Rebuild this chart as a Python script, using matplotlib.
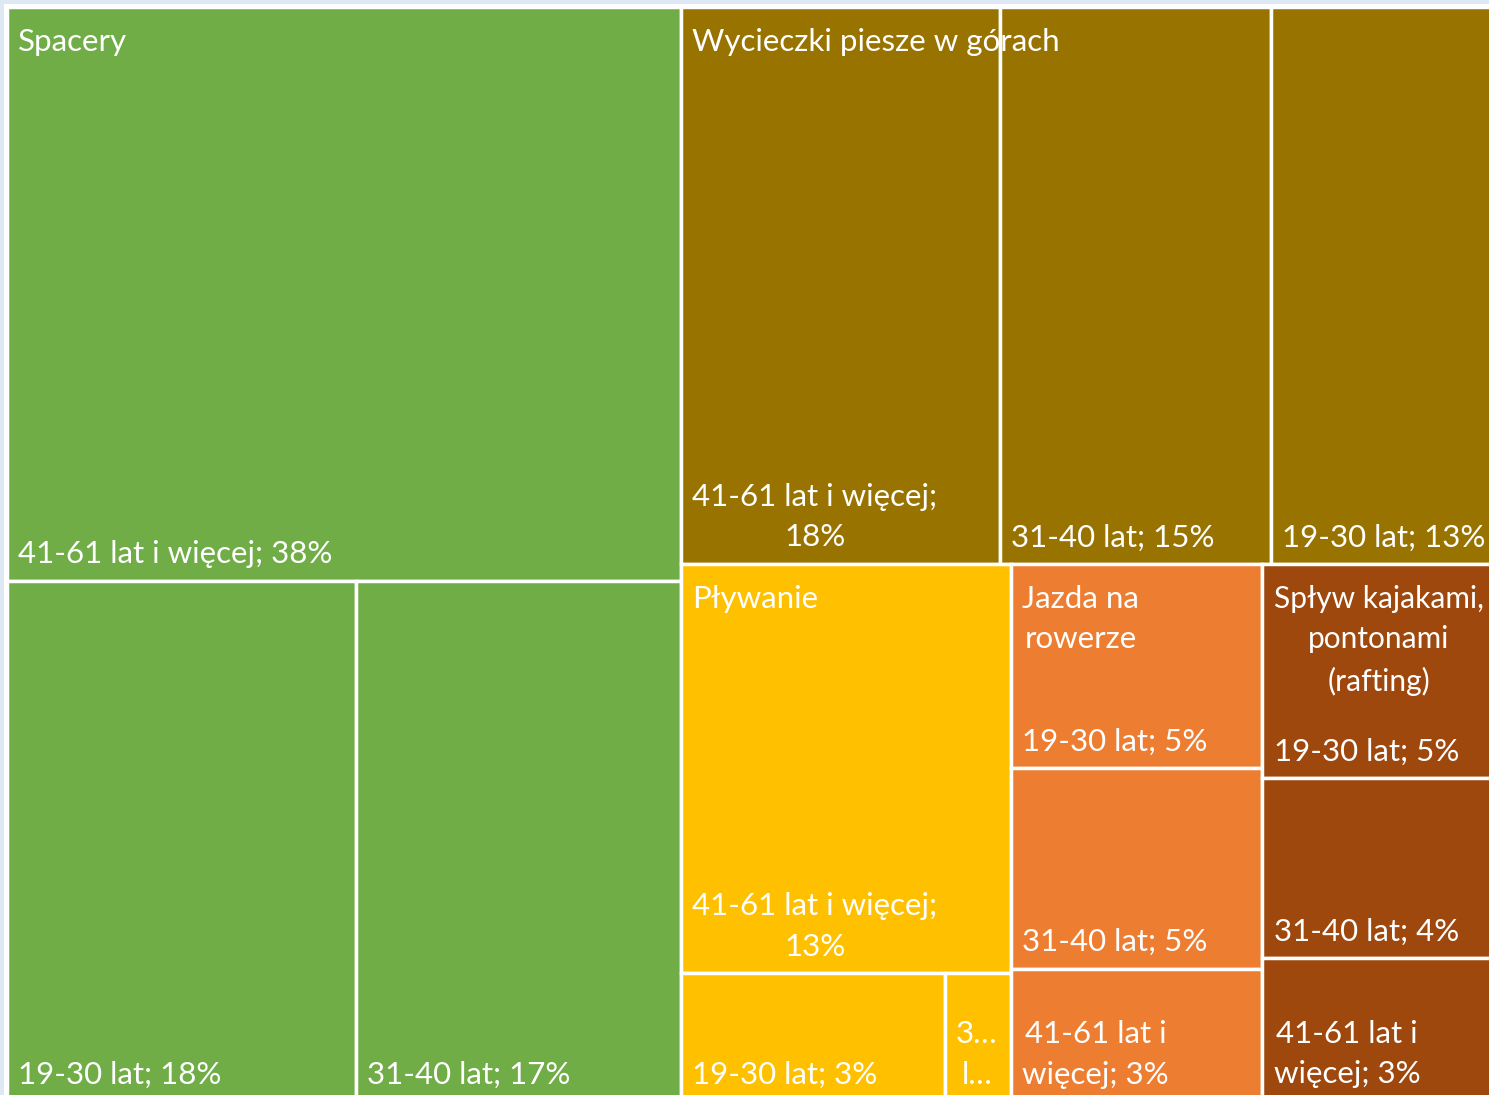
import matplotlib.pyplot as plt
from matplotlib.patches import Rectangle
from matplotlib.transforms import offset_copy

# Treemap data: activity groups (as broken in the original), age groups, shares (%)
groups = ["Spacery", "Wycieczki piesze w górach", "Pływanie",
          "Jazda na\nrowerze", "Spływ kajakami,\npontonami\n(rafting)"]
group_colors = ["#70AD47", "#997300", "#FFC000", "#ED7D31", "#9E480E"]

spacery_ages = ["41-61 lat i więcej", "19-30 lat", "31-40 lat"]
spacery_vals = [38.4, 18.0, 16.8]
wycieczki_ages = ["41-61 lat i więcej", "31-40 lat", "19-30 lat"]
wycieczki_vals = [17.6, 15.0, 12.8]
plywanie_ages = ["41-61 lat i więcej", "19-30 lat", "31-40 lat"]
plywanie_vals = [13.4, 3.35, 0.84]
rower_ages = ["19-30 lat", "31-40 lat", "41-61 lat i więcej"]
rower_vals = [5.1, 5.0, 3.3]
splyw_ages = ["19-30 lat", "31-40 lat", "41-61 lat i więcej"]
splyw_vals = [5.1, 4.3, 3.4]

group_ages = [spacery_ages, wycieczki_ages, plywanie_ages, rower_ages, splyw_ages]
group_vals = [spacery_vals, wycieczki_vals, plywanie_vals, rower_vals, splyw_vals]
# how each group splits its box (same arrangement as the Excel treemap)
group_modes = ["head", "cols", "head", "rows", "rows"]

FONT = "Lato"
FS = 22.5
LS = 1.55      # line spacing
PAD = 8        # points, left/right padding of labels
TOP_PAD = 15   # points, title from top of group
BOT_PAD = 9    # points, leaf label from bottom of tile


def slice_box(box, vals, horizontal):
    x, y, w, h = box
    total = sum(vals)
    out, off = [], 0.0
    for v in vals:
        f = v / total
        if horizontal:
            out.append((x + off * w, y, f * w, h))
        else:
            out.append((x, y + off * h, w, f * h))
        off += f
    return out


def split_group(box, vals, mode):
    if mode == "cols":
        return slice_box(box, vals, True)
    if mode == "rows":
        return slice_box(box, vals, False)
    # "head": first item on top, the rest side by side below
    top_box, rest_box = slice_box(box, [vals[0], sum(vals[1:])], False)
    return [top_box] + slice_box(rest_box, vals[1:], True)


W_PX, H_PX = 1489, 1095
fig = plt.figure(figsize=(W_PX / 100, H_PX / 100), dpi=100, facecolor="#dde8f4")
# the treemap runs a little past the right and bottom edge, as in the original
left, top, right, bottom = 7, 7, 1502.6, 1101
ax = fig.add_axes([left / W_PX, 1 - bottom / H_PX,
                   (right - left) / W_PX, (bottom - top) / H_PX])
ax.set_xlim(0, 1)
ax.set_ylim(1, 0)
ax.axis("off")
fig.patches.append(Rectangle((4 / W_PX, 0), 1, 1 - 4 / H_PX, transform=fig.transFigure,
                             facecolor="white", edgecolor="none", zorder=-1))

# top level: first group as a column, second on top of the rest, rest side by side
totals = [sum(v) for v in group_vals]
first_box, rest_box = slice_box((0, 0, 1, 1), [totals[0], sum(totals[1:])], True)
second_box, bottom_box = slice_box(rest_box, [totals[1], sum(totals[2:])], False)
group_boxes = [first_box, second_box] + slice_box(bottom_box, totals[2:], True)

renderer = fig.canvas.get_renderer()


def px_size(s, fs=FS):
    t = ax.text(0, 0, s, fontsize=fs, family=FONT, linespacing=LS)
    bb = t.get_window_extent(renderer)
    t.remove()
    return bb.width, bb.height


def wrap(text, avail, max_lines):
    # greedy word wrap; words that do not fit get cut with an ellipsis
    lines, cur, keep = [], "", None
    for word in text.split(" "):
        if keep is not None and len(word) > keep:
            word = word[:keep] + "…"
        cand = word if not cur else cur + " " + word
        if px_size(cand)[0] <= avail:
            cur = cand
            continue
        if cur:
            lines.append(cur)
        cur = word
        if px_size(cur)[0] > avail:
            while len(cur) > 1 and px_size(cur + "…")[0] > avail:
                cur = cur[:-1]
            keep = len(cur)
            cur = cur + "…"
    lines.append(cur)
    return "\n".join(lines[:max(1, max_lines)])


def box_px(box):
    x, y, w, h = box
    p0 = ax.transData.transform((x, y))
    p1 = ax.transData.transform((x + w, y + h))
    return p0[0], abs(p1[0] - p0[0]), abs(p1[1] - p0[1])


pad_px = PAD * 100 / 72
line_px = px_size("A\nA")[1] - px_size("A")[1]
title_tr = offset_copy(ax.transData, fig=fig, x=PAD, y=-TOP_PAD, units="points")
label_tr = offset_copy(ax.transData, fig=fig, x=PAD, y=BOT_PAD, units="points")

for name, color, ages, vals, mode, gbox in zip(groups, group_colors, group_ages,
                                               group_vals, group_modes, group_boxes):
    for age, v, (x, y, w, h) in zip(ages, vals, split_group(gbox, vals, mode)):
        ax.add_patch(Rectangle((x, y), w, h, facecolor=color, edgecolor="white",
                               linewidth=2.5))
        _, wpx, hpx = box_px((x, y, w, h))
        label = wrap(f"{age}; {round(v)}%", wpx - 2 * pad_px, int((hpx - 2 * pad_px) // line_px))
        ax.text(x, y + h, label, transform=label_tr, ha="left", va="bottom",
                multialignment="center", linespacing=LS, color="white",
                fontsize=FS, family=FONT, zorder=3)
    # shrink a title a little if it would run past the visible picture edge
    gx_px, gw_px, _ = box_px(gbox)
    room = min(gx_px + gw_px, W_PX) - gx_px - pad_px - 6
    tw = px_size(name)[0]
    fs = FS if tw <= room or gw_px > W_PX / 2 else FS * room / tw
    ax.text(gbox[0], gbox[1], name, transform=title_tr,
            ha="left", va="top", multialignment="center", linespacing=LS,
            color="white", fontsize=fs, family=FONT, zorder=3)

fig.savefig("out.png", dpi=100, facecolor=fig.get_facecolor())
